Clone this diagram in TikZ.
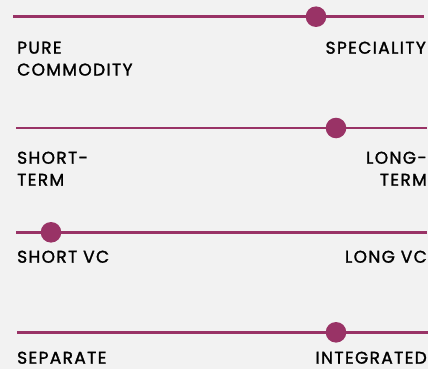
\documentclass[tikz,border=0pt]{standalone}
\usepackage{fontspec}
\setmainfont{Poppins}[FakeBold=1.5,LetterSpace=8]
\definecolor{plum}{HTML}{993366}
\definecolor{paper}{HTML}{F2F2F2}
\begin{document}
\begin{tikzpicture}
    [
    x=1pt,y=-1pt,
    bar/.style={plum,line width=2.6pt},
    point/.style={circle,fill=plum,inner sep=0pt,minimum size=20.6pt},
    lefttag/.style={anchor=north west,inner sep=0pt,align=left,font=\fontsize{17}{22}\selectfont},
    righttag/.style={anchor=north east,inner sep=0pt,align=right,font=\fontsize{17}{22}\selectfont}
    ]
    \fill [paper] (0,0) rectangle (428,369);
    \useasboundingbox (0,0) rectangle (428,369);
    % commodity
    \coordinate (a1) at (13,16.7);
    \coordinate (b1) at (424,16.7);
    \draw [bar] (a1) -- (b1);
    \node (p1) at (316,16.7) [point] {};
    \node (l1) at (17,41.5) [lefttag] {PURE\\COMMODITY};
    \node (r1) at (426,41.5) [righttag] {SPECIALITY};
    % term
    \coordinate (a2) at (16,128);
    \coordinate (b2) at (426.7,128);
    \draw [bar] (a2) -- (b2);
    \node (p2) at (336,128) [point] {};
    \node (l2) at (17,151.5) [lefttag] {SHORT-\\TERM};
    \node (r2) at (427,151.5) [righttag] {LONG-\\TERM};
    % vc
    \coordinate (a3) at (16,232.3);
    \coordinate (b3) at (426.7,232.3);
    \draw [bar] (a3) -- (b3);
    \node (p3) at (51,232.3) [point] {};
    \node (l3) at (17,250.5) [lefttag] {SHORT VC};
    \node (r3) at (427,250.5) [righttag] {LONG VC};
    % integration
    \coordinate (a4) at (17.3,332.3);
    \coordinate (b4) at (428,332.3);
    \draw [bar] (a4) -- (b4);
    \node (p4) at (336,332.3) [point] {};
    \node (l4) at (17,351.5) [lefttag] {SEPARATE};
    \node (r4) at (427,351.5) [righttag] {INTEGRATED};
  \end{tikzpicture}
\end{document}
